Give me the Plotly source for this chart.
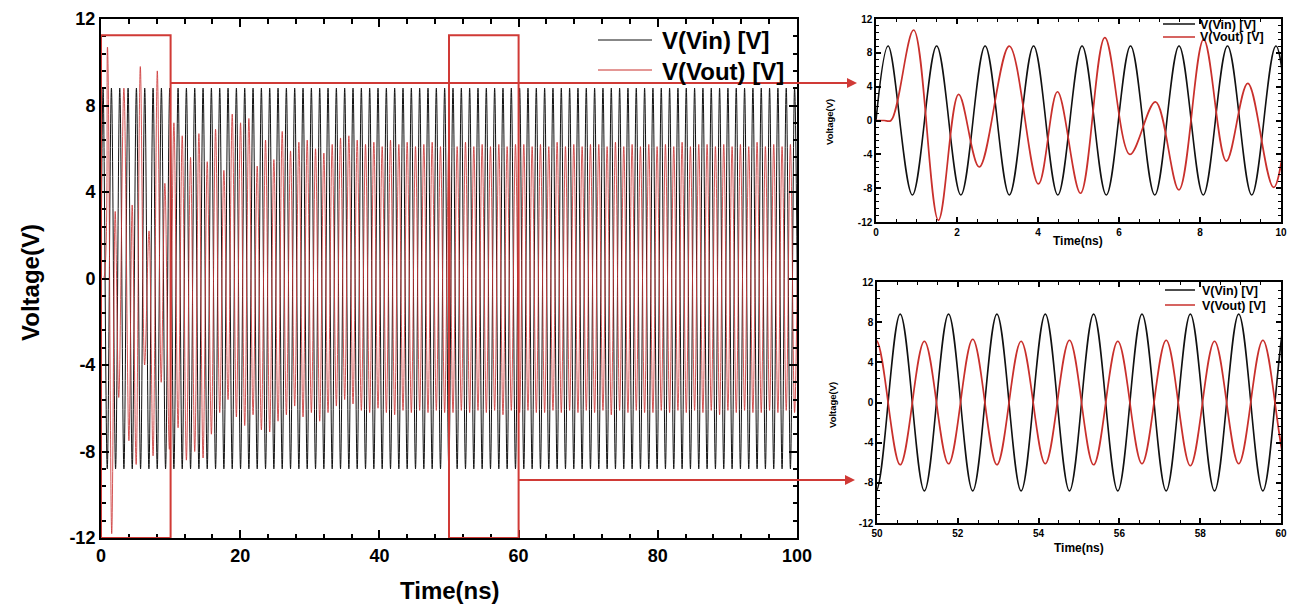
import plotly.graph_objects as go

# ---------------------------------------------------------------- data
# Input source V(Vin): constant-amplitude sine
VIN_AMPLITUDE = 8.8      # V
VIN_PERIOD = 1.197       # ns
VIN_FIRST_PEAK = 0.3     # ns
VIN_EXTREMA_COUNT = 168  # half-cycles plotted (past 100 ns)

# V(Vout) start-up transient, 0-10 ns: extrema (time ns, value V)
VOUT_T_START = [0.0, 0.2, 0.37, 0.93, 1.54, 2.04, 2.55, 3.29, 4.01, 4.48,
                5.05, 5.65, 6.27, 6.90, 7.48, 8.09, 8.65, 9.18, 9.82]
VOUT_V_START = [0.0, 0.0, 0.0, 10.7, -11.8, 3.1, -5.5, 8.8, -7.5, 3.4,
                -8.6, 9.8, -4.0, 2.2, -8.2, 9.6, -4.8, 4.4, -7.9]

# V(Vout) after 10 ns: peaks sit on Vin troughs (cycles 8..83),
# troughs sit on Vin peaks (cycles 9..83)
VOUT_FIRST_PEAK_CYCLE = 8
VOUT_PEAKS = [7.2, 6.6, 5.6, 6.7, 5.4, 6.9, 5.0, 7.6, 7.2, 7.4,
              5.2, 6.4, 5.5, 6.8, 5.9, 6.3, 6.4, 6.0, 5.8, 6.2,
              6.5, 6.6, 6.4, 6.2, 6.3, 6.1, 6.4, 6.2, 6.3, 6.1,
              6.2, 6.3, 6.1, 6.2, 6.1, 6.3, 6.1, 6.2, 6.1, 6.2,
              6.1, 6.2,
              6.2, 6.1, 6.2, 6.1, 6.3, 6.1, 6.2, 6.1, 6.2, 6.2,
              6.1, 6.3, 6.1, 6.2, 6.1, 6.2, 6.1, 6.2, 6.1, 6.3,
              6.1, 6.2, 6.2, 6.1, 6.2, 6.1, 6.2, 6.1, 6.3, 6.1,
              6.2, 6.1, 6.2, 6.1]
VOUT_TROUGHS = [-6.9, -8.4, -8.0, -8.3, -7.2, -6.2, -5.6, -6.4, -6.8, -6.3,
                -7.0, -7.1, -6.6, -6.3, -5.9, -6.4, -6.2, -6.6, -6.2, -5.9,
                -5.6, -5.8, -6.1, -6.2, -6.0, -6.2, -6.3, -6.1, -6.2,
                -6.1, -6.2, -6.1, -6.2, -6.2, -6.1, -6.2, -6.1, -6.2, -6.1,
                -6.3, -6.1, -6.2, -6.1, -6.2, -6.2, -6.1, -6.2, -6.1, -6.2,
                -6.1, -6.2, -6.1, -6.3, -6.1, -6.2, -6.1, -6.2, -6.2, -6.1,
                -6.2, -6.1, -6.2, -6.1, -6.2, -6.1, -6.3, -6.1, -6.2, -6.1,
                -6.2, -6.2, -6.1, -6.2, -6.1, -6.2]

# Axis ticks
MAIN_X_TICKS = [0, 20, 40, 60, 80, 100]
INSET1_X_TICKS = [0, 2, 4, 6, 8, 10]
INSET2_X_TICKS = [50, 52, 54, 56, 58, 60]
Y_TICKS = [-12, -8, -4, 0, 4, 8, 12]
Y_TICK_TEXT = ["-12", "-8", "-4", "0", "4", "8", "12"]

# Zoom windows marked on the overview (ns)
ZOOM_WINDOWS = [(0, 10), (50, 60)]
ZOOM_BOX_TOP = 11.25

# ---------------------------------------------------------------- series
vin_t = [0.0] + [VIN_FIRST_PEAK + j * VIN_PERIOD / 2 for j in range(VIN_EXTREMA_COUNT)]
vin_v = [0.0] + [VIN_AMPLITUDE if j % 2 == 0 else -VIN_AMPLITUDE
                 for j in range(VIN_EXTREMA_COUNT)]

vout_t = list(VOUT_T_START)
vout_v = list(VOUT_V_START)
for i, pk in enumerate(VOUT_PEAKS):
    k = VOUT_FIRST_PEAK_CYCLE + i
    vout_t.append(VIN_FIRST_PEAK + VIN_PERIOD / 2 + k * VIN_PERIOD)
    vout_v.append(pk)
    if i < len(VOUT_TROUGHS):
        vout_t.append(VIN_FIRST_PEAK + (k + 1) * VIN_PERIOD)
        vout_v.append(VOUT_TROUGHS[i])

# ---------------------------------------------------------------- layout helpers
W, H = 1291, 607
FONT = "Liberation Sans, Arial, sans-serif"
BLACK = "#111111"
RED = "#c9302c"
RED_DENSE = "rgba(205,55,55,0.85)"
FRAME_RED = "#d03a36"


def fx(px):
    return px / W


def fy(py):
    return 1 - py / H


MAIN_X = [fx(101), fx(797)]
MAIN_Y = [fy(538), fy(19)]
TOP_X = [fx(876), fx(1281)]
TOP_Y = [fy(222), fy(19)]
BOT_X = [fx(877), fx(1281)]
BOT_Y = [fy(523), fy(282)]


def axis(dom, rng, tickvals, ticktext, anchor, fsize, mlen, nlen, ndtick, lw):
    return dict(
        domain=dom, range=rng, anchor=anchor, automargin=False,
        tickmode="array", tickvals=tickvals, ticktext=ticktext,
        ticks="inside", ticklen=mlen, tickwidth=lw, tickcolor="black",
        minor=dict(ticks="inside", ticklen=nlen, tickmode="linear", tick0=0,
                   dtick=ndtick, tickwidth=max(1, lw * 0.75), tickcolor="black",
                   showgrid=False),
        showline=True, linewidth=lw, linecolor="black", mirror="ticks",
        showgrid=False, zeroline=False,
        tickfont=dict(family=FONT, size=fsize, color="black", weight="bold"),
    )


fig = go.Figure()

panels = [("x", "y", 1.0, 1.0, RED_DENSE), ("x2", "y2", 1.6, 1.7, RED), ("x3", "y3", 1.6, 1.7, RED)]
for xa, ya, wb, wr, rc in panels:
    fig.add_trace(go.Scatter(x=vin_t, y=vin_v, mode="lines", xaxis=xa, yaxis=ya,
                             line=dict(color=BLACK, width=wb, shape="spline", smoothing=1),
                             name="V(Vin) [V]", showlegend=False, hoverinfo="skip"))
    fig.add_trace(go.Scatter(x=vout_t, y=vout_v, mode="lines", xaxis=xa, yaxis=ya,
                             line=dict(color=rc, width=wr, shape="spline", smoothing=1),
                             name="V(Vout) [V]", showlegend=False, hoverinfo="skip"))

fig.update_layout(
    width=W, height=H,
    margin=dict(l=0, r=0, t=0, b=0, autoexpand=False),
    paper_bgcolor="white", plot_bgcolor="white",
    showlegend=False,
    xaxis=axis(MAIN_X, [0, 100], MAIN_X_TICKS, [str(v) for v in MAIN_X_TICKS], "y", 18, 8, 4.5, 4, 2),
    yaxis=axis(MAIN_Y, [-12, 12], Y_TICKS, Y_TICK_TEXT, "x", 18, 8, 4.5, 0.8, 2),
    xaxis2=axis(TOP_X, [0, 10], INSET1_X_TICKS, [str(v) for v in INSET1_X_TICKS], "y2", 10, 5, 3, 0.5, 1.5),
    yaxis2=axis(TOP_Y, [-12, 12], Y_TICKS, Y_TICK_TEXT, "x2", 10, 5, 3, 0.8, 1.5),
    xaxis3=axis(BOT_X, [50, 60], INSET2_X_TICKS, [str(v) for v in INSET2_X_TICKS], "y3", 10, 5, 3, 0.5, 1.5),
    yaxis3=axis(BOT_Y, [-12, 12], Y_TICKS, Y_TICK_TEXT, "x3", 10, 5, 3, 0.8, 1.5),
)

shapes = []
annotations = []


def text(x, y, s, size, anchor="center", angle=0):
    annotations.append(dict(x=fx(x), y=fy(y), xref="paper", yref="paper", text=s,
                            showarrow=False, xanchor=anchor, yanchor="middle",
                            textangle=angle,
                            font=dict(family=FONT, size=size, color="black", weight="bold")))


def hline(x0, x1, y, color, width):
    shapes.append(dict(type="line", xref="paper", yref="paper",
                       x0=fx(x0), x1=fx(x1), y0=fy(y), y1=fy(y),
                       line=dict(color=color, width=width)))


# axis titles
text(30, 283, "Voltage(V)", 24, angle=-90)
text(450, 590, "Time(ns)", 24)
text(1078, 241, "Time(ns)", 12)
text(1079, 548, "Time(ns)", 12)
text(829, 122, "Voltage(V)", 9.5, angle=-90)
text(832, 405, "Voltage(V)", 9.5, angle=-90)

# legends
hline(598, 652, 40, BLACK, 1)
hline(598, 652, 70, RED, 1)
text(660, 41, "V(Vin) [V]", 24, anchor="left")
text(660, 71, "V(Vout) [V]", 24, anchor="left")

hline(1163, 1195, 24, BLACK, 1.5)
hline(1163, 1195, 37, RED, 1.5)
text(1198, 25, "V(Vin) [V]", 12.5, anchor="left")
text(1198, 37, "V(Vout) [V]", 12.5, anchor="left")

hline(1165, 1195, 290, BLACK, 1.5)
hline(1165, 1195, 305, RED, 1.5)
text(1200, 291, "V(Vin) [V]", 12.5, anchor="left")
text(1200, 306, "V(Vout) [V]", 12.5, anchor="left")

# zoom windows on the overview, with leader arrows to the insets
for x0, x1 in ZOOM_WINDOWS:
    shapes.append(dict(type="rect", xref="x", yref="y", x0=x0, x1=x1,
                       y0=-12, y1=ZOOM_BOX_TOP,
                       line=dict(color=FRAME_RED, width=2)))


def main_px(t):
    return MAIN_X[0] + (t / 100.0) * (MAIN_X[1] - MAIN_X[0])


def main_py(v):
    return MAIN_Y[0] + ((v + 12) / 24.0) * (MAIN_Y[1] - MAIN_Y[0])


LEADERS = [(ZOOM_WINDOWS[0][1], 9.04, 857), (ZOOM_WINDOWS[1][1], -9.32, 855)]
for t_edge, v_level, tip_px in LEADERS:
    xs = main_px(t_edge)
    ys = main_py(v_level)
    shapes.append(dict(type="line", xref="paper", yref="paper",
                       x0=xs, x1=fx(tip_px) - 6 / W, y0=ys, y1=ys,
                       line=dict(color=FRAME_RED, width=2)))
    annotations.append(dict(x=fx(tip_px), y=ys, xref="paper", yref="paper",
                            ax=-10, ay=0, axref="pixel", ayref="pixel",
                            text="", showarrow=True, arrowhead=2, arrowsize=1,
                            arrowwidth=2, arrowcolor=FRAME_RED))

fig.update_layout(shapes=shapes, annotations=annotations)

fig.write_html("out.html")
